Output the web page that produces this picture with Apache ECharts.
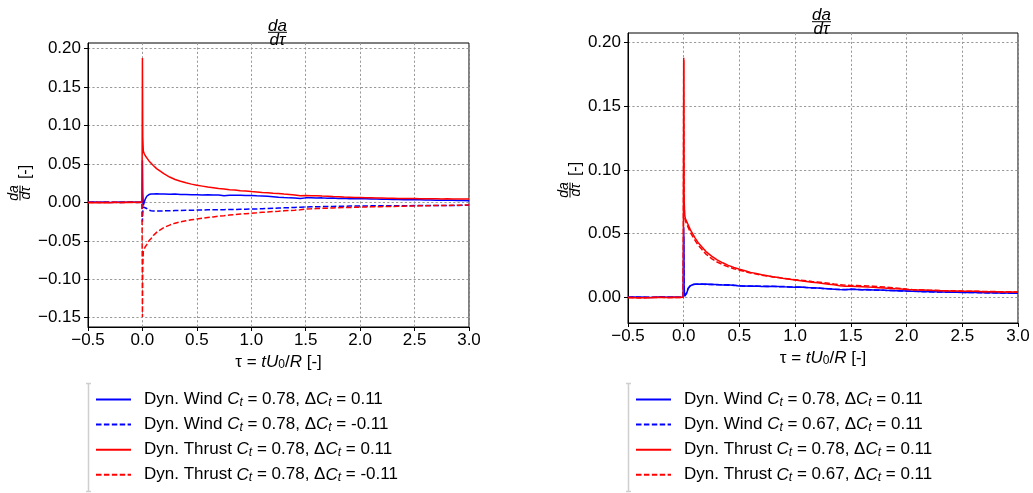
<!DOCTYPE html>
<html>
<head>
<meta charset="utf-8">
<title>da/dτ</title>
<script src="https://cdn.jsdelivr.net/npm/echarts@6/dist/echarts.min.js"></script>
<style>
    html, body { margin: 0; padding: 0; background: #fff; }
    #main { width: 1033px; height: 493px; }
</style>
</head>
<body>
<div id="main"></div>
<script>
    // time axis τ = tU0/R, shared by all series
    var tau = [
        -0.5, -0.45, -0.4, -0.35, -0.3, -0.25, -0.2, -0.15, -0.1, -0.05, -0.004,
        0, 0.003, 0.008, 0.015, 0.025, 0.04, 0.06, 0.08, 0.1, 0.13, 0.16, 0.2,
        0.25, 0.3, 0.35, 0.4, 0.45, 0.5, 0.55, 0.6,
        0.65, 0.7, 0.75, 0.8, 0.85, 0.9, 0.95, 1.0,
        1.05, 1.1, 1.15, 1.2, 1.25, 1.3, 1.35, 1.4,
        1.45, 1.5, 1.55, 1.6, 1.65, 1.7, 1.75, 1.8,
        1.85, 1.9, 1.95, 2.0, 2.05, 2.1, 2.15, 2.2,
        2.25, 2.3, 2.35, 2.4, 2.45, 2.5, 2.55, 2.6,
        2.65, 2.7, 2.75, 2.8, 2.85, 2.9, 2.95, 3.0
    ];

    // ---- left panel: dCt = +0.11 / -0.11 ----
    var leftWindUp = [
        0.0002, 0.0005, 0.0001, 0.0004, -0.0001, 0.0003, 0.0006, 0.0002, 0.0004, 0.0001, 0.0003,
        0.055, 0.012, -0.004, -0.002, 0.004, 0.008, 0.0102, 0.0108, 0.0110, 0.0112, 0.0109, 0.0110,
        0.0106, 0.0108, 0.0103, 0.0104, 0.0100, 0.0101, 0.0097, 0.0099,
        0.0095, 0.0096, 0.0088, 0.0094, 0.0092, 0.0093, 0.0089, 0.0090,
        0.0086, 0.0084, 0.0079, 0.0074, 0.0068, 0.0063, 0.0059, 0.0056,
        0.0052, 0.0059, 0.0061, 0.0058, 0.0059, 0.0055, 0.0056, 0.0052,
        0.0053, 0.0049, 0.0050, 0.0046, 0.0047, 0.0043, 0.0044, 0.0041,
        0.0042, 0.0038, 0.0039, 0.0036, 0.0036, 0.0033, 0.0034, 0.0031,
        0.0031, 0.0029, 0.0029, 0.0027, 0.0027, 0.0025, 0.0025, 0.0023
    ];
    var leftWindDown = [
        0.0001, 0.0003, 0.0000, 0.0002, 0.0004, 0.0001, -0.0001, 0.0003, 0.0002, 0.0000, 0.0001,
        -0.025, -0.014, -0.006, -0.004, -0.005, -0.008, -0.0100, -0.0108, -0.0112, -0.0113, -0.0112, -0.0110,
        -0.0109, -0.0106, -0.0106, -0.0102, -0.0103, -0.0099, -0.0100, -0.0096,
        -0.0097, -0.0094, -0.0094, -0.0091, -0.0092, -0.0089, -0.0088, -0.0086,
        -0.0085, -0.0082, -0.0080, -0.0077, -0.0074, -0.0071, -0.0068, -0.0065,
        -0.0062, -0.0060, -0.0058, -0.0057, -0.0055, -0.0054, -0.0052, -0.0051,
        -0.0050, -0.0048, -0.0048, -0.0046, -0.0046, -0.0045, -0.0045, -0.0044,
        -0.0044, -0.0043, -0.0043, -0.0042, -0.0042, -0.0041, -0.0041, -0.0041,
        -0.0040, -0.0040, -0.0040, -0.0039, -0.0039, -0.0039, -0.0038, -0.0038
    ];
    var leftThrustUp = [
        -0.0004, -0.0002, -0.0005, -0.0001, -0.0003, 0.0000, -0.0002, 0.0001, -0.0001, 0.0002, 0.0001,
        0.188, 0.085, 0.067, 0.064, 0.061, 0.058, 0.054, 0.051, 0.048, 0.044, 0.041, 0.037,
        0.0330, 0.0298, 0.0275, 0.0255, 0.0238, 0.0224, 0.0212, 0.0200,
        0.0192, 0.0181, 0.0175, 0.0166, 0.0160, 0.0152, 0.0148, 0.0141,
        0.0137, 0.0130, 0.0126, 0.0119, 0.0115, 0.0108, 0.0102, 0.0095,
        0.0087, 0.0091, 0.0088, 0.0086, 0.0082, 0.0080, 0.0076, 0.0073,
        0.0070, 0.0068, 0.0065, 0.0064, 0.0061, 0.0060, 0.0058, 0.0057,
        0.0055, 0.0054, 0.0052, 0.0052, 0.0050, 0.0050, 0.0048, 0.0048,
        0.0047, 0.0047, 0.0045, 0.0046, 0.0044, 0.0045, 0.0043, 0.0044
    ];
    var leftThrustDown = [
        0.0003, 0.0000, 0.0002, -0.0002, 0.0001, 0.0003, -0.0001, 0.0000, 0.0002, -0.0001, 0.0000,
        -0.149, -0.085, -0.064, -0.061, -0.058, -0.055, -0.050, -0.047, -0.043, -0.039, -0.036, -0.0325,
        -0.0295, -0.0270, -0.0252, -0.0238, -0.0226, -0.0216, -0.0207, -0.0196,
        -0.0189, -0.0179, -0.0173, -0.0165, -0.0159, -0.0151, -0.0147, -0.0140,
        -0.0136, -0.0129, -0.0125, -0.0119, -0.0115, -0.0110, -0.0106, -0.0102,
        -0.0096, -0.0085, -0.0083, -0.0080, -0.0077, -0.0075, -0.0072, -0.0070,
        -0.0067, -0.0066, -0.0063, -0.0062, -0.0060, -0.0058, -0.0056, -0.0055,
        -0.0053, -0.0052, -0.0050, -0.0049, -0.0047, -0.0046, -0.0045, -0.0044,
        -0.0042, -0.0041, -0.0040, -0.0039, -0.0038, -0.0037, -0.0035, -0.0034
    ];

    // ---- right panel: Ct = 0.78 / 0.67 ----
    var rightWind78 = [
        0.0002, 0.0004, 0.0001, 0.0003, 0.0000, 0.0002, 0.0005, 0.0001, 0.0003, 0.0002, 0.0003,
        0.055, 0.010, 0.001, -0.0005, 0.003, 0.007, 0.0092, 0.0100, 0.0104, 0.0106, 0.0103, 0.0105,
        0.0101, 0.0102, 0.0098, 0.0099, 0.0095, 0.0090, 0.0091, 0.0089,
        0.0090, 0.0087, 0.0089, 0.0086, 0.0087, 0.0084, 0.0083, 0.0081,
        0.0082, 0.0078, 0.0076, 0.0074, 0.0071, 0.0068, 0.0064, 0.0062,
        0.0061, 0.0065, 0.0063, 0.0061, 0.0062, 0.0058, 0.0059, 0.0056,
        0.0055, 0.0053, 0.0052, 0.0050, 0.0049, 0.0047, 0.0048, 0.0045,
        0.0046, 0.0043, 0.0044, 0.0042, 0.0042, 0.0040, 0.0041, 0.0039,
        0.0039, 0.0037, 0.0038, 0.0036, 0.0036, 0.0035, 0.0034, 0.0033
    ];
    var rightWind67 = [
        0.0001, 0.0003, 0.0004, 0.0000, 0.0002, 0.0003, 0.0001, 0.0004, 0.0002, 0.0001, 0.0002,
        0.048, 0.009, 0.0015, 0.0000, 0.0035, 0.0072, 0.0094, 0.0101, 0.0103, 0.0104, 0.0105, 0.0102,
        0.0103, 0.0099, 0.0100, 0.0096, 0.0097, 0.0092, 0.0089, 0.0090,
        0.0088, 0.0089, 0.0086, 0.0088, 0.0085, 0.0086, 0.0082, 0.0083,
        0.0080, 0.0079, 0.0075, 0.0075, 0.0070, 0.0069, 0.0065, 0.0063,
        0.0063, 0.0064, 0.0064, 0.0060, 0.0060, 0.0059, 0.0057, 0.0057,
        0.0054, 0.0054, 0.0051, 0.0051, 0.0048, 0.0048, 0.0046, 0.0046,
        0.0044, 0.0044, 0.0042, 0.0043, 0.0041, 0.0041, 0.0039, 0.0040,
        0.0038, 0.0038, 0.0036, 0.0037, 0.0035, 0.0035, 0.0033, 0.0034
    ];
    var rightThrust78 = [
        -0.0002, 0.0000, -0.0003, -0.0001, -0.0002, 0.0001, -0.0001, 0.0000, 0.0002, 0.0000, 0.0001,
        0.188, 0.080, 0.065, 0.062, 0.060, 0.057, 0.053, 0.050, 0.047, 0.043, 0.040, 0.036,
        0.0325, 0.0295, 0.0272, 0.0252, 0.0236, 0.0222, 0.0210, 0.0197,
        0.0189, 0.0178, 0.0171, 0.0162, 0.0156, 0.0148, 0.0143, 0.0137,
        0.0131, 0.0126, 0.0120, 0.0115, 0.0110, 0.0104, 0.0099, 0.0093,
        0.0089, 0.0088, 0.0086, 0.0085, 0.0082, 0.0080, 0.0077, 0.0074,
        0.0071, 0.0068, 0.0066, 0.0063, 0.0061, 0.0059, 0.0058, 0.0056,
        0.0055, 0.0053, 0.0052, 0.0051, 0.0050, 0.0049, 0.0048, 0.0048,
        0.0047, 0.0046, 0.0046, 0.0045, 0.0044, 0.0044, 0.0043, 0.0043
    ];
    var rightThrust67 = [
        0.0001, -0.0002, 0.0000, -0.0003, 0.0001, -0.0001, 0.0002, -0.0002, 0.0000, 0.0001, 0.0000,
        0.186, 0.078, 0.063, 0.060, 0.058, 0.055, 0.051, 0.048, 0.045, 0.041, 0.038, 0.034,
        0.0305, 0.0278, 0.0258, 0.0240, 0.0226, 0.0214, 0.0203, 0.0192,
        0.0184, 0.0175, 0.0169, 0.0161, 0.0156, 0.0149, 0.0145, 0.0140,
        0.0135, 0.0131, 0.0126, 0.0122, 0.0117, 0.0112, 0.0106, 0.0101,
        0.0097, 0.0095, 0.0094, 0.0092, 0.0091, 0.0089, 0.0085, 0.0082,
        0.0078, 0.0074, 0.0070, 0.0066, 0.0063, 0.0061, 0.0059, 0.0057,
        0.0056, 0.0054, 0.0053, 0.0052, 0.0051, 0.0050, 0.0049, 0.0049,
        0.0048, 0.0047, 0.0047, 0.0046, 0.0045, 0.0045, 0.0044, 0.0044
    ];

    // legend labels (C_t gets typeset as italic C with subscript t)
    var leftNames = [
        'Dyn. Wind C_t = 0.78, ΔC_t = 0.11',
        'Dyn. Wind C_t = 0.78, ΔC_t = -0.11',
        'Dyn. Thrust C_t = 0.78, ΔC_t = 0.11',
        'Dyn. Thrust C_t = 0.78, ΔC_t = -0.11'
    ];
    var rightNames = [
        'Dyn. Wind C_t = 0.78, ΔC_t = 0.11',
        'Dyn. Wind C_t = 0.67, ΔC_t = 0.11',
        'Dyn. Thrust C_t = 0.78, ΔC_t = 0.11',
        'Dyn. Thrust C_t = 0.67, ΔC_t = 0.11'
    ];

    // tick values
    var yTicksLeft = [-0.15, -0.10, -0.05, 0, 0.05, 0.10, 0.15, 0.20];
    var yTicksRight = [0, 0.05, 0.10, 0.15, 0.20];

    var FONT = "'Liberation Sans', Arial, sans-serif";
    var BLUE = '#0000ff';
    var RED = '#ff0000';
    var DASH = [5.5, 2.4];
    var GRID_LINE = { color: '#999', width: 1, type: [2.2, 2.2] };

    var myChart = echarts.init(document.getElementById('main'), null, { renderer: 'canvas' });

    function minusFmt(digits) {
        return function (v) {
            return (v < -1e-9 ? '\u2212' : '') + Math.abs(v).toFixed(digits);
        };
    }

    function pairs(ys) {
        return tau.map(function (t, i) { return [t, ys[i]]; });
    }

    function lineSeries(name, ys, color, dashed, idx) {
        return {
            name: name,
            type: 'line',
            xAxisIndex: idx,
            yAxisIndex: idx,
            data: pairs(ys),
            symbol: 'none',
            showSymbol: false,
            lineStyle: { color: color, width: 1.5, type: dashed ? DASH : 'solid' },
            itemStyle: { color: color }
        };
    }

    function legendText(name) {
        return '{n|' + name.split('C_t').join('}{i|C}{s|t}{n|') + '}';
    }

    var legendRich = {
        n: { fontSize: 17, lineHeight: 18, color: '#000', fontFamily: FONT },
        i: { fontSize: 17, lineHeight: 18, color: '#000', fontFamily: FONT, fontStyle: 'italic' },
        s: { fontSize: 12, lineHeight: 10, color: '#000', fontFamily: FONT, fontStyle: 'italic', verticalAlign: 'bottom' }
    };

    var nameRich = {
        n: { fontSize: 17, lineHeight: 18, color: '#000', fontFamily: FONT },
        i: { fontSize: 17, lineHeight: 18, color: '#000', fontFamily: FONT, fontStyle: 'italic' },
        s: { fontSize: 12, lineHeight: 10, color: '#000', fontFamily: FONT, verticalAlign: 'bottom' }
    };

    function xAxisCfg(idx) {
        return {
            gridIndex: idx,
            type: 'value',
            min: -0.5,
            max: 3.0,
            interval: 0.5,
            axisLine: { show: true, onZero: false, lineStyle: { color: '#000', width: 1 } },
            axisTick: { show: true, inside: false, length: 4, lineStyle: { color: '#000', width: 1 } },
            axisLabel: { show: true, margin: 5, color: '#000', fontSize: 17, fontFamily: FONT, formatter: minusFmt(1) },
            splitLine: { show: true, lineStyle: GRID_LINE },
            name: '{n|τ = }{i|tU}{s|0}{n|/}{i|R}{n| [-]}',
            nameLocation: 'middle',
            nameGap: 26,
            nameMoveOverlap: false,
            nameTextStyle: { rich: nameRich }
        };
    }

    function yAxisCfg(idx, min, max, ticks) {
        return {
            gridIndex: idx,
            type: 'value',
            min: min,
            max: max,
            axisLine: { show: true, onZero: false, lineStyle: { color: '#000', width: 1 } },
            axisTick: { show: true, inside: false, length: 4, customValues: ticks, lineStyle: { color: '#000', width: 1 } },
            axisLabel: { show: true, margin: 7, color: '#000', fontSize: 17, fontFamily: FONT, customValues: ticks, formatter: minusFmt(2) },
            splitLine: { show: true, lineStyle: GRID_LINE }
        };
    }

    // fraction da/dτ drawn as two small texts with a bar
    function fraction(size, half, gapTop, gapBottom) {
        var f = 'italic ' + size + 'px ' + FONT;
        return [
            { type: 'text', style: { text: 'da', x: 0, y: gapTop, font: f, fill: '#000', align: 'center', verticalAlign: 'bottom', textAlign: 'center', textVerticalAlign: 'bottom' } },
            { type: 'line', shape: { x1: -half, y1: 0, x2: half, y2: 0 }, style: { stroke: '#000', lineWidth: 1 } },
            { type: 'text', style: { text: 'dτ', x: 0, y: gapBottom, font: f, fill: '#000', align: 'center', verticalAlign: 'top', textAlign: 'center', textVerticalAlign: 'top' } }
        ];
    }

    function titleGroup(x, y) {
        return { type: 'group', x: x, y: y, children: fraction(17, 9.5, 2, -1) };
    }

    function yLabelGroup(x, y) {
        var kids = fraction(14, 7.5, 1, -0.5);
        kids.push({ type: 'text', style: { text: '[-]', x: 21, y: 6, font: '16px ' + FONT, fill: '#000', align: 'center', verticalAlign: 'middle', textAlign: 'center', textVerticalAlign: 'middle' } });
        return { type: 'group', x: x, y: y, rotation: Math.PI / 2, children: kids };
    }

    // light grey bracket on the left of each legend box
    function bracket(x, y1, y2) {
        var st = { stroke: '#cfcfcf', lineWidth: 1.5 };
        return { type: 'group', children: [
            { type: 'line', shape: { x1: x, y1: y1, x2: x, y2: y2 }, style: st },
            { type: 'line', shape: { x1: x - 2.5, y1: y1, x2: x + 2.5, y2: y1 }, style: st },
            { type: 'line', shape: { x1: x - 2.5, y1: y2, x2: x + 2.5, y2: y2 }, style: st }
        ] };
    }

    function legendCfg(left, names) {
        return {
            orient: 'vertical',
            left: left,
            top: 391,
            padding: 0,
            itemWidth: 35,
            itemHeight: 10,
            itemGap: 7.6,
            data: names,
            formatter: legendText,
            itemStyle: { opacity: 0 },
            textStyle: { padding: [0, 0, 0, 8], rich: legendRich }
        };
    }

    var option = {
        animation: false,
        backgroundColor: '#fff',
        grid: [
            { left: 88, top: 43, width: 381, height: 284, show: true, borderColor: '#000', borderWidth: 1, backgroundColor: '#fff', containLabel: false, outerBoundsMode: 'none' },
            { left: 628, top: 33, width: 390, height: 290, show: true, borderColor: '#000', borderWidth: 1, backgroundColor: '#fff', containLabel: false, outerBoundsMode: 'none' }
        ],
        xAxis: [xAxisCfg(0), xAxisCfg(1)],
        yAxis: [
            yAxisCfg(0, -0.1621, 0.2074, yTicksLeft),
            yAxisCfg(1, -0.0200, 0.2074, yTicksRight)
        ],
        legend: [legendCfg(95, leftNames), legendCfg(635, rightNames)],
        graphic: [
            titleGroup(277.5, 32.3),
            titleGroup(821.5, 21.7),
            yLabelGroup(20, 193),
            yLabelGroup(570, 190),
            bracket(88.5, 383.5, 491.5),
            bracket(628.5, 383.5, 491.5)
        ],
        series: [
            lineSeries(leftNames[0], leftWindUp, BLUE, false, 0),
            lineSeries(leftNames[1], leftWindDown, BLUE, true, 0),
            lineSeries(leftNames[2], leftThrustUp, RED, false, 0),
            lineSeries(leftNames[3], leftThrustDown, RED, true, 0),
            lineSeries(rightNames[0], rightWind78, BLUE, false, 1),
            lineSeries(rightNames[1], rightWind67, BLUE, true, 1),
            lineSeries(rightNames[2], rightThrust78, RED, false, 1),
            lineSeries(rightNames[3], rightThrust67, RED, true, 1)
        ]
    };

    myChart.setOption(option);
    window.addEventListener('resize', function () {
        myChart.resize();
    });
</script>
</body>
</html>
